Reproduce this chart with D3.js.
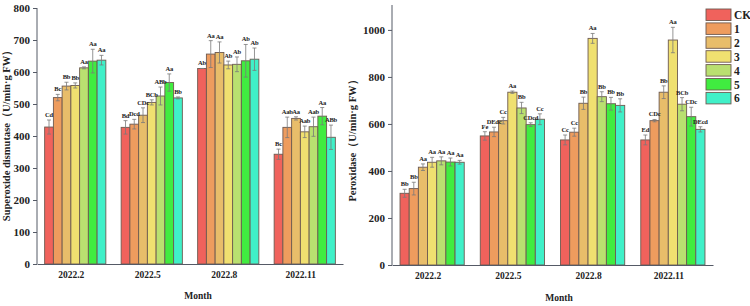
<!DOCTYPE html>
<html>
<head>
<meta charset="utf-8">
<script src="https://cdn.jsdelivr.net/npm/d3@7/dist/d3.min.js"></script>
<style>
  body { margin: 0; background: #fff; }
  svg text { font-family: "Liberation Serif", "DejaVu Serif", serif; font-weight: bold; fill: #222; }
</style>
</head>
<body>
<svg id="chart" width="750" height="306"></svg>
<script>
"use strict";

var months = ["2022.2", "2022.5", "2022.8", "2022.11"];
var treatments = ["CK", "1", "2", "3", "4", "5", "6"];
var colors = ["#f0625c", "#ee9c5e", "#e8bd6a", "#f0e070", "#b9e070", "#40ec40", "#40f0c8"];

// Superoxide dismutase, one row per month, one value per treatment
var sodMean = [
  [428, 520, 556, 558, 613, 634, 637],
  [427, 437, 465, 505, 525, 567, 519],
  [611, 656, 661, 622, 624, 635, 640],
  [343, 427, 455, 413, 429, 462, 396]
];
var sodErr = [
  [22, 10, 12, 8, 3, 37, 15],
  [21, 15, 23, 8, 28, 27, 3],
  [0, 42, 33, 12, 23, 51, 35],
  [16, 32, 5, 18, 30, 27, 38]
];
var sodLetters = [
  ["Cd", "Bc", "Bb", "Bb", "Aa", "Aa", "Aa"],
  ["Bd", "Dcd", "CDc", "BCb", "ABb", "Aa", "Bb"],
  ["Ab", "Aa", "Aa", "Ab", "Ab", "Ab", "Ab"],
  ["Bc", "Aab", "Aa", "Aab", "Aab", "Aa", "ABb"]
];

// Peroxidase
var podMean = [
  [305, 325, 416, 437, 443, 438, 437],
  [549, 566, 614, 735, 668, 597, 620],
  [532, 565, 688, 964, 716, 686, 679],
  [532, 614, 735, 957, 684, 631, 577]
];
var podErr = [
  [17, 27, 14, 21, 17, 17, 8],
  [18, 20, 14, 5, 24, 8, 23],
  [21, 17, 26, 21, 21, 27, 28],
  [21, 5, 27, 54, 28, 40, 11]
];
var podLetters = [
  ["Bb", "Bb", "Aa", "Aa", "Aa", "Aa", "Aa"],
  ["Fe", "DEdc", "Cc", "Aa", "Bb", "CDcd", "Cc"],
  ["Cc", "Cc", "Bb", "Aa", "Bb", "Bb", "Bb"],
  ["Ed", "CDc", "Bb", "Aa", "BCb", "CDc", "DEcd"]
];

var sodTicks = [0, 100, 200, 300, 400, 500, 600, 700, 800];
var podTicks = [0, 200, 400, 600, 800, 1000];

var svg = d3.select("#chart");

function panel(opt) {
  var x0 = d3.scaleBand().domain(months).range([opt.left, opt.right]).paddingInner(0.2).paddingOuter(0.1);
  var x1 = d3.scaleBand().domain(treatments).range([0, x0.bandwidth()]);
  var y = d3.scaleLinear().domain([0, opt.max]).range([opt.bottom, opt.top]);

  var g = svg.append("g");

  var groups = g.selectAll("g.grp")
    .data(months)
    .enter().append("g")
    .attr("transform", function(d){ return "translate(" + x0(d) + ",0)"; });

  groups.each(function(m, i){
    var rows = treatments.map(function(t, j){
      return { t: t, j: j, v: opt.mean[i][j], e: opt.err[i][j], l: opt.letters[i][j] };
    });
    var gg = d3.select(this);
    var cx = function(d){ return x1(d.t) + x1.bandwidth() / 2; };

    gg.selectAll("rect")
      .data(rows).enter().append("rect")
      .attr("x", function(d){ return x1(d.t); })
      .attr("y", function(d){ return y(d.v); })
      .attr("width", x1.bandwidth())
      .attr("height", function(d){ return y(0) - y(d.v); })
      .attr("fill", function(d){ return colors[d.j]; })
      .attr("stroke", "#6e5a50")
      .attr("stroke-width", 0.9);

    var eb = gg.selectAll("g.err").data(rows).enter().append("g")
      .attr("stroke", "#7a7a7a").attr("stroke-width", 0.8);
    eb.append("line")
      .attr("x1", cx).attr("x2", cx)
      .attr("y1", function(d){ return y(d.v - d.e); })
      .attr("y2", function(d){ return y(d.v + d.e); });
    eb.append("line")
      .attr("x1", function(d){ return cx(d) - 2; })
      .attr("x2", function(d){ return cx(d) + 2; })
      .attr("y1", function(d){ return y(d.v + d.e); })
      .attr("y2", function(d){ return y(d.v + d.e); });
    eb.append("line")
      .attr("x1", function(d){ return cx(d) - 2; })
      .attr("x2", function(d){ return cx(d) + 2; })
      .attr("y1", function(d){ return y(d.v - d.e); })
      .attr("y2", function(d){ return y(d.v - d.e); });

    gg.selectAll("text.lab").data(rows).enter().append("text")
      .attr("x", cx)
      .attr("y", function(d){ return y(d.v + d.e) - 3; })
      .attr("text-anchor", "middle")
      .style("font-size", "6.5px")
      .style("letter-spacing", "-0.2px")
      .text(function(d){ return d.l; });
  });

  // axes
  var yAxis = g.append("g")
    .attr("transform", "translate(" + opt.left + ",0)")
    .call(d3.axisLeft(y).tickValues(opt.ticks).tickFormat(d3.format("d")).tickSize(4).tickSizeOuter(0));
  yAxis.select(".domain").attr("stroke", "#555a66").attr("d", "M0," + opt.bottom + "V" + opt.top);
  yAxis.selectAll(".tick line").attr("stroke", "#555a66");
  yAxis.selectAll(".tick text").style("font-size", "11px").attr("x", -7);

  var xAxis = g.append("g")
    .attr("transform", "translate(0," + opt.bottom + ")")
    .call(d3.axisBottom(x0).tickSize(0).tickSizeOuter(0));
  xAxis.select(".domain").attr("stroke", "#555a66");
  xAxis.selectAll(".tick text").style("font-size", "9.5px").attr("dy", "1.2em").attr("dx", -4);

  g.append("text")
    .attr("transform", "translate(" + opt.ylabX + "," + opt.ylabY + ") rotate(-90)")
    .attr("text-anchor", "middle")
    .style("font-size", "10.5px")
    .text(opt.ylabel);

  g.append("text")
    .attr("x", opt.monthX)
    .attr("y", opt.monthY)
    .attr("text-anchor", "middle")
    .style("font-size", "9.5px")
    .text("Month");
}

panel({
  left: 37, right: 343, top: 8, bottom: 264, max: 800,
  mean: sodMean, err: sodErr, letters: sodLetters, ticks: sodTicks,
  ylabel: "Superoxide dismutase（U/min·g FW）", ylabX: 10, ylabY: 133,
  monthX: 198, monthY: 299
});

panel({
  left: 392, right: 713, top: 5, bottom: 265, max: 1106,
  mean: podMean, err: podErr, letters: podLetters, ticks: podTicks,
  ylabel: "Peroxidase（U/min·g FW）", ylabX: 356, ylabY: 138,
  monthX: 559, monthY: 301
});

// legend
var legend = svg.append("g").attr("transform", "translate(706,9)");
var li = legend.selectAll("g").data(treatments).enter().append("g")
  .attr("transform", function(d, i){ return "translate(0," + (i * 13.9) + ")"; });
li.append("rect")
  .attr("width", 25).attr("height", 11.5)
  .attr("fill", function(d, i){ return colors[i]; })
  .attr("stroke", "#6e5a50").attr("stroke-width", 0.9);
li.append("text")
  .attr("x", 28).attr("y", 10)
  .style("font-size", "11.5px")
  .text(function(d){ return d; });
</script>
</body>
</html>
